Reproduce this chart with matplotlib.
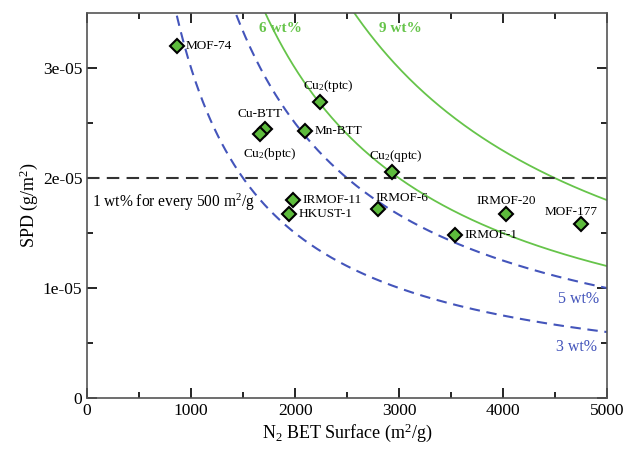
import matplotlib
matplotlib.use("Agg")
import matplotlib.pyplot as plt
import numpy as np

plt.rcParams['font.family'] = ['Liberation Serif', 'DejaVu Serif']
plt.rcParams['mathtext.fontset'] = 'custom'
plt.rcParams['mathtext.rm'] = 'Liberation Serif'
plt.rcParams['mathtext.it'] = 'Liberation Serif:italic'

# MOF data: BET surface (m2/g) and SPD (g/m2)
names = ["MOF-74", "Cu-BTT", "Cu$_2$(bptc)", "Mn-BTT", "Cu$_2$(tptc)", "Cu$_2$(qptc)",
         "IRMOF-11", "HKUST-1", "IRMOF-6", "IRMOF-1", "IRMOF-20", "MOF-177"]
surface = [865, 1711, 1663, 2096, 2240, 2933, 1980, 1942, 2798, 3538, 4029, 4750]
spd = [3.20e-5, 2.445e-5, 2.40e-5, 2.43e-5, 2.69e-5, 2.06e-5,
       1.80e-5, 1.67e-5, 1.72e-5, 1.48e-5, 1.67e-5, 1.58e-5]
# label offsets in points
offsets = [(6, 0), (-4, 11), (-12, -14), (7, 0), (6, 12), (3, 11),
           (7, 0), (7, 0), (-2, 8), (7, 0), (0, 10), (-7, 9)]
aligns = ["left", "center", "left", "left", "center", "center",
          "left", "left", "left", "left", "center", "center"]

# constant-uptake curves (wt%)
blue_wt = [3, 5]
green_wt = [6, 9]

fig = plt.figure(figsize=(6.27, 4.5), dpi=100)
ax = fig.add_axes([0.139, 0.1156, 0.829, 0.855])

S = np.linspace(200, 5000, 400)
for w in blue_wt:
    ax.plot(S, w / 100.0 / S, color='#4455BB', lw=1.5, ls=(0, (5, 3.2)))
for w in green_wt:
    ax.plot(S, w / 100.0 / S, color='#66C44A', lw=1.3)
ax.axhline(2e-5, color='#333333', lw=1.5, ls=(0, (6, 3.5)))

ax.plot(surface, spd, ls='none', marker='D', ms=7, mfc='#5DBB3C', mec='black', mew=1.5)
for n, x, y, off, ha in zip(names, surface, spd, offsets, aligns):
    ax.annotate(n, (x, y), xytext=off, textcoords='offset points',
                ha=ha, va='center', fontsize=9.5)

ax.text(1856, 3.36e-5, "6 wt%", color='#66C44A', fontsize=11, ha='center', va='center', fontweight='bold')
ax.text(3010, 3.36e-5, "9 wt%", color='#66C44A', fontsize=11, ha='center', va='center', fontweight='bold')
ax.text(4730, 0.90e-5, "5 wt%", color='#4455BB', fontsize=11.5, ha='center', va='center')
ax.text(4710, 0.46e-5, "3 wt%", color='#4455BB', fontsize=11.5, ha='center', va='center')
ax.text(48, 1.78e-5, "1 wt% for every 500 m$^2$/g", fontsize=11.2, ha='left', va='center')

ax.set_xlim(0, 5000)
ax.set_ylim(0, 3.5e-5)
ax.set_xticks([0, 1000, 2000, 3000, 4000, 5000])
ax.set_xticks(np.arange(500, 5000, 1000), minor=True)
ax.set_yticks([0, 1e-5, 2e-5, 3e-5])
ax.set_yticklabels(["0", "1e-05", "2e-05", "3e-05"])
ax.set_yticks([0.5e-5, 1.5e-5, 2.5e-5], minor=True)
ax.tick_params(which='both', direction='in', top=True, right=True, labelsize=12.5, width=1.2)
ax.tick_params(which='major', length=7)
ax.tick_params(which='minor', length=4)
for s in ax.spines.values():
    s.set_linewidth(1.2)
    s.set_color('#555555')

ax.set_xlabel("N$_2$ BET Surface (m$^2$/g)", fontsize=13, labelpad=2)
ax.set_ylabel("SPD (g/m$^2$)", fontsize=13, labelpad=2)

fig.savefig("out.png", dpi=100)
